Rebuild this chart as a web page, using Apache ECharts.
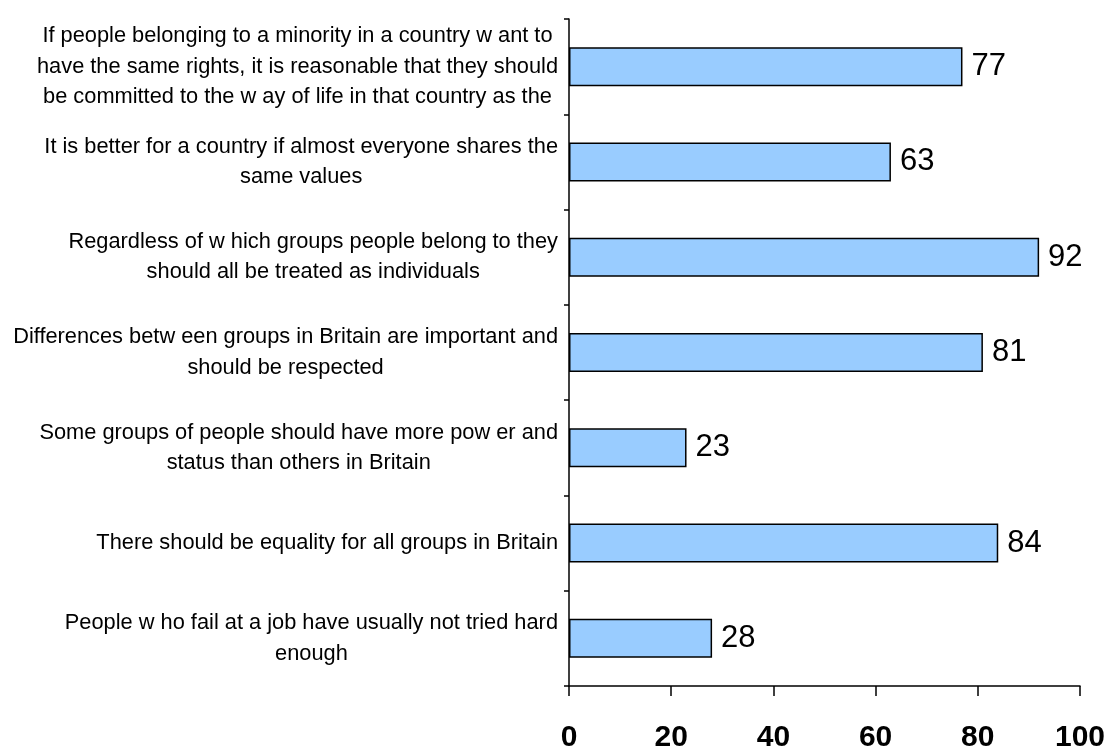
<!DOCTYPE html>
<html>
<head>
<meta charset="utf-8">
<script src="https://cdn.jsdelivr.net/npm/echarts@6/dist/echarts.min.js"></script>
<style>
  html, body { margin: 0; padding: 0; background: #ffffff; }
  #chart { width: 1109px; height: 748px; }
</style>
</head>
<body>
<div id="chart"></div>
<script>
// Survey statements (top to bottom), wrapped the way they are printed
const categories = [
  'If people belonging to a minority in a country w ant to\nhave the same rights, it is reasonable that they should\nbe committed to the w ay of life in that country as the',
  'It is better for a country if almost everyone shares the\nsame values',
  'Regardless of w hich groups people belong to they\nshould all be treated as individuals',
  'Differences betw een groups in Britain are important and\nshould be respected',
  'Some groups of people should have more pow er and\nstatus than others in Britain',
  'There should be equality for all groups in Britain',
  'People w ho fail at a job have usually not tried hard\nenough'
];

// Percentage agreeing with each statement
const values = [77, 63, 92, 81, 23, 84, 28];

// Value axis ticks
const xMin = 0;
const xMax = 100;
const xStep = 20;

const FONT = '"Liberation Sans", Arial, sans-serif';

const chart = echarts.init(document.getElementById('chart'), null, { renderer: 'canvas' });

chart.setOption({
  animation: false,
  backgroundColor: '#ffffff',
  grid: {
    left: 569, right: 29, top: 19, bottom: 62,
    containLabel: false,
    outerBoundsMode: 'none'
  },
  xAxis: {
    type: 'value',
    min: xMin,
    max: xMax,
    interval: xStep,
    axisLine: { show: true, lineStyle: { color: '#000000', width: 1.5 } },
    axisTick: { show: true, inside: false, length: 10, lineStyle: { color: '#000000', width: 1.5 } },
    splitLine: { show: false },
    axisLabel: {
      margin: 37,
      color: '#000000',
      fontFamily: FONT,
      fontWeight: 'bold',
      fontSize: 30
    }
  },
  yAxis: {
    type: 'category',
    inverse: true,
    data: categories,
    axisLine: { show: true, lineStyle: { color: '#000000', width: 1.5 } },
    axisTick: { show: true, inside: false, length: 5, alignWithLabel: false, lineStyle: { color: '#000000', width: 1.5 } },
    splitLine: { show: false },
    axisLabel: {
      margin: 11,
      align: 'right',
      verticalAlign: 'middle',
      interval: 0,
      color: '#000000',
      fontFamily: FONT,
      fontSize: 21.8,
      // each line is centred inside the right-aligned text block
      formatter: function (v) {
        return v.split('\n').map(function (line) { return '{c|' + line + '}'; }).join('\n');
      },
      rich: {
        c: { align: 'center', fontSize: 21.8, lineHeight: 30.5, fontFamily: FONT, color: '#000000' }
      }
    }
  },
  series: [{
    type: 'bar',
    data: values,
    barWidth: 39,
    itemStyle: { color: '#99CCFF', borderColor: '#000000', borderWidth: 1.5 },
    label: {
      show: true,
      position: 'right',
      distance: 9,
      color: '#000000',
      fontFamily: FONT,
      fontSize: 31
    }
  }]
});
</script>
</body>
</html>
